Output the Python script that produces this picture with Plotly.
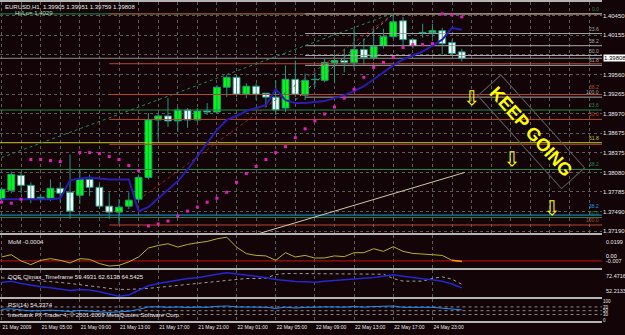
import plotly.graph_objects as go

# ---------------- data ----------------
bars = list(range(48))
opens = [1.37675,1.37810,1.38035,1.37885,1.37675,1.37690,1.37840,1.37780,1.37735,1.37975,
         1.37855,1.37570,1.37480,1.37570,1.37675,1.38005,1.38875,1.38935,1.38860,1.39025,
         1.38875,1.39010,1.38995,1.39370,1.39520,1.39265,1.39385,1.39280,1.39220,1.39055,
         1.39490,1.39250,1.39490,1.39475,1.39745,1.39775,1.39745,1.39940,1.39820,1.40000,
         1.40135,1.40375,1.40090,1.40195,1.40195,1.40225,1.40045,1.39905]
highs = [1.37855,1.38095,1.38080,1.37930,1.37750,1.37975,1.37930,1.38350,1.38125,1.38050,
         1.37900,1.37780,1.37675,1.37780,1.38050,1.38980,1.38965,1.39205,1.39070,1.39055,
         1.39055,1.39130,1.39400,1.39550,1.39550,1.39430,1.39430,1.39280,1.39475,1.39700,
         1.39775,1.39580,1.39595,1.39805,1.39880,1.39955,1.40255,1.40105,1.40255,1.40255,
         1.40480,1.40435,1.40105,1.40330,1.40330,1.40270,1.40090,1.39951]
lows = [1.37630,1.37765,1.37765,1.37615,1.37630,1.37645,1.37630,1.37375,1.37600,1.37720,
        1.37525,1.37375,1.37300,1.37525,1.37630,1.37975,1.38575,1.38770,1.38695,1.38755,
        1.38845,1.38950,1.38980,1.39220,1.39220,1.39205,1.39175,1.39070,1.38950,1.38995,
        1.39220,1.39175,1.39370,1.39445,1.39430,1.39595,1.39655,1.39715,1.39775,1.39955,
        1.40105,1.39985,1.39955,1.40120,1.40120,1.39865,1.39850,1.39759]
closes = [1.37825,1.38050,1.37885,1.37675,1.37705,1.37840,1.37765,1.37495,1.37975,1.37855,
          1.37570,1.37480,1.37555,1.37660,1.38005,1.38875,1.38935,1.38860,1.39025,1.38875,
          1.39010,1.38995,1.39370,1.39520,1.39265,1.39385,1.39265,1.39220,1.39025,1.39490,
          1.39265,1.39475,1.39485,1.39745,1.39775,1.39745,1.39940,1.39820,1.39985,1.40135,
          1.40360,1.40090,1.40000,1.40200,1.40225,1.40030,1.39880,1.39808]
ma_line = [1.37675,1.37675,1.37675,1.37675,1.37675,1.37675,1.37690,1.37960,1.37990,1.38005,
           1.37990,1.37975,1.37975,1.37975,1.37495,1.37555,1.37690,1.37825,1.37945,1.38125,
           1.38320,1.38530,1.38725,1.38875,1.38935,1.39010,1.39055,1.39100,1.39340,1.39175,
           1.39130,1.39130,1.39145,1.39160,1.39205,1.39250,1.39310,1.39385,1.39490,1.39595,
           1.39700,1.39790,1.39850,1.39910,1.40000,1.40090,1.40270,1.40240]
sar = [1.37630,1.37615,1.37675,1.38275,1.38275,1.38260,1.38245,None,1.38380,1.38380,
       1.38365,1.38320,1.38275,1.38185,1.38110,1.37270,1.37300,1.37345,1.37420,1.37495,
       1.37555,1.37630,1.37690,1.37780,1.37930,1.38065,1.38170,1.38275,1.38380,1.38470,
       1.38605,1.38740,1.38860,1.38965,1.39070,1.39205,1.39340,1.39520,1.39670,1.39745,
       1.39820,1.39970,1.40015,1.40015,1.40030,1.40480,1.40465,1.40435]
mom = [0.0033,0.0052,0.0000,-0.0031,0.0005,0.0019,0.0005,-0.0017,0.0019,0.0013,
       -0.0022,-0.0043,-0.0037,-0.0008,0.0033,0.0108,0.0129,0.0144,0.0116,0.0138,
       0.0152,0.0163,0.0185,0.0199,0.0116,0.0061,0.0046,0.0042,0.0005,0.0069,
       0.0033,0.0046,0.0024,0.0025,0.0042,0.0036,0.0069,0.0069,0.0102,0.0080,
       0.0119,0.0080,0.0063,0.0055,0.0052,0.0046,0.0005,-0.0004]
qqe_rsi = [64.18,65.29,63.32,61.87,60.50,59.65,58.45,57.34,58.19,57.59,
           56.23,53.92,52.21,53.32,57.08,61.36,63.32,64.78,66.15,67.60,
           68.20,69.91,71.27,72.47,71.62,70.42,69.56,68.45,66.74,65.63,
           65.03,64.78,64.43,65.29,65.89,66.49,67.00,67.60,68.45,69.56,
           70.76,69.56,68.20,67.34,66.49,65.29,62.90,59.49]
qqe_trail = [68.17,67.60,67.03,66.18,65.32,64.75,64.18,63.33,62.47,61.33,
             60.19,59.05,58.20,58.20,58.48,59.05,59.91,60.76,61.62,62.47,
             63.33,64.18,65.32,66.18,67.03,67.60,67.60,67.89,71.02,71.88,
             71.88,71.88,71.59,71.31,71.31,71.31,71.31,71.31,71.31,71.31,
             67.60,65.32,65.32,65.32,67.60,69.03,67.03,62.61]
rsi = [57,60,54,49,50,53,50,45,52,50,44,41,43,47,57,70,71,68,70,67,
       69,68,73,75,70,71,69,68,62,69,64,68,67,70,70,69,72,69,72,73,
       75,68,66,68,68,64,58,54.34]

time_ticks = [0,4,8,12,16,20,24,28,32,36,40,44]
time_labels = ["21 May 2009","21 May 05:00","21 May 09:00","21 May 13:00","21 May 17:00",
               "21 May 21:00","22 May 01:00","22 May 05:00","22 May 09:00","22 May 13:00",
               "22 May 17:00","24 May 23:00"]
price_ticks = [1.37190,1.37490,1.37785,1.38080,1.38375,1.38675,1.38970,1.39265,
               1.39560,1.39860,1.40155,1.40450]
last_price = 1.39808

fib_green = dict(high=1.40480, low=1.34315, start=-5, levels=[0.0,23.6,38.2,50.0],
                 color="#1f8a4c", labels=[0.0,23.6,38.2,50.0])
fib_orange = dict(high=1.40480, low=1.37285, start=11, levels=[0.0,23.6,38.2,50.0,61.8,100.0],
                  color="#b5492c", labels=[38.2,50.0,100.0])
fib_gray = dict(high=1.40480, low=1.39220, start=31, levels=[0.0,23.6,38.2,50.0,61.8,100.0],
                color="#a8a8a8", labels=[23.6,38.2,50.0,61.8,100.0])
single_levels = [(1.38530, "61.8", "#c8c81e"), (1.37435, "38.2", "#1e9be6")]

trend_green = ([0, 40], [1.38305, 1.40490])
trend_red = ([14.5, 40], [1.37720, 1.40480])
trend_white = ([30, 40], [1.39175, 1.40480])
trend_beige = ([25.5, 47.3], [1.37120, 1.38080])

arrow_x = [48.0, 52.1, 56.2]
arrow_y = [1.39175, 1.38260, 1.37510]

# ---------------- style ----------------
BG = "#120407"
GRID = "#5a5a5a"
SEP = "#b4b4b4"
FONT = "Liberation Sans"
XR = [-0.15, 61.3]
XD = [0, 0.963]
WICK = "#1f9a80"

fig = go.Figure()
far = 1000

for fs in (fib_green, fib_orange, fib_gray):
    for lv in fs["levels"]:
        p = fs["high"] - (fs["high"] - fs["low"]) * lv / 100.0
        fig.add_trace(go.Scatter(x=[fs["start"], far], y=[p, p], mode="lines",
                                 line=dict(color=fs["color"], width=1), hoverinfo="skip",
                                 showlegend=False, xaxis="x", yaxis="y"))
for p, t, c in single_levels:
    fig.add_trace(go.Scatter(x=[-5, far], y=[p, p], mode="lines", line=dict(color=c, width=1),
                             hoverinfo="skip", showlegend=False, xaxis="x", yaxis="y"))
fig.add_trace(go.Scatter(x=[-5, far], y=[last_price, last_price], mode="lines",
                         line=dict(color="#8c8c8c", width=1), hoverinfo="skip", showlegend=False))

for (tx, ty), col, dash in [(trend_green, "#238b50", "dot"), (trend_red, "#a02020", "dot"),
                            (trend_white, "#8a8a8a", "dot"), (trend_beige, "#cfc8a8", "solid")]:
    fig.add_trace(go.Scatter(x=tx, y=ty, mode="lines", line=dict(color=col, width=1, dash=dash),
                             hoverinfo="skip", showlegend=False))

wx, wy = [], []
for i, h, l in zip(bars, highs, lows):
    wx += [i, i, None]
    wy += [l, h, None]
fig.add_trace(go.Scatter(x=wx, y=wy, mode="lines", line=dict(color=WICK, width=1),
                         showlegend=False, hoverinfo="skip"))
body_base = [min(o, c) for o, c in zip(opens, closes)]
body_len = [max(abs(c - o), 0.00003) for o, c in zip(opens, closes)]
body_col = ["#00ff00" if c >= o else "#ffffff" for o, c in zip(opens, closes)]
fig.add_trace(go.Bar(x=bars, y=body_len, base=body_base, width=0.7,
                     marker=dict(color=body_col, line=dict(color=WICK, width=1)),
                     showlegend=False, hoverinfo="skip"))
fig.add_trace(go.Scatter(x=bars, y=ma_line, mode="lines", line=dict(color="#2a1cb0", width=2),
                         showlegend=False, hoverinfo="skip"))
fig.add_trace(go.Scatter(x=bars, y=sar, mode="markers",
                         marker=dict(symbol="square", size=3, color="#e020b8"),
                         showlegend=False, hoverinfo="skip"))
fig.add_trace(go.Scatter(x=arrow_x, y=arrow_y, mode="text", text=["⇩"] * 3,
                         textfont=dict(color="#ffff00", size=20, family="DejaVu Sans"),
                         showlegend=False, hoverinfo="skip"))

fig.add_trace(go.Scatter(x=[-5, far], y=[0, 0], mode="lines", line=dict(color="#d01010", width=1),
                         xaxis="x2", yaxis="y2", showlegend=False, hoverinfo="skip"))
fig.add_trace(go.Scatter(x=bars, y=mom, mode="lines", line=dict(color="#b4b428", width=1),
                         xaxis="x2", yaxis="y2", showlegend=False, hoverinfo="skip"))
fig.add_trace(go.Scatter(x=bars[-2:], y=mom[-2:], mode="lines", line=dict(color="#ff8c00", width=1.5),
                         xaxis="x2", yaxis="y2", showlegend=False, hoverinfo="skip"))
fig.add_trace(go.Scatter(x=bars, y=qqe_trail, mode="lines", line=dict(color="#a0a0a0", width=1, dash="dot"),
                         xaxis="x3", yaxis="y3", showlegend=False, hoverinfo="skip"))
fig.add_trace(go.Scatter(x=bars, y=qqe_rsi, mode="lines", line=dict(color="#2626d2", width=1.5),
                         xaxis="x3", yaxis="y3", showlegend=False, hoverinfo="skip"))
for lvl in (70, 50, 30):
    fig.add_trace(go.Scatter(x=[-5, far], y=[lvl, lvl], mode="lines",
                             line=dict(color="#8c8c8c", width=1, dash="dot"),
                             xaxis="x4", yaxis="y4", showlegend=False, hoverinfo="skip"))
fig.add_trace(go.Scatter(x=bars, y=rsi, mode="lines", line=dict(color="#1e90ff", width=1),
                         xaxis="x4", yaxis="y4", showlegend=False, hoverinfo="skip"))

def xax(anchor, labels=False, step=4):
    d = dict(domain=XD, range=XR, anchor=anchor, tickvals=time_ticks, showgrid=True,
             gridcolor=GRID, griddash="dot", gridwidth=1, zeroline=False, ticks="",
             showline=True, mirror=True, linecolor=SEP, linewidth=2, showticklabels=labels,
             fixedrange=True)
    if step == 2:
        d["minor"] = dict(dtick=2, tick0=0, showgrid=True, gridcolor=GRID, griddash="dot", gridwidth=1)
    if labels:
        d.update(ticktext=time_labels, ticklabelposition="outside right", tickangle=0,
                 tickfont=dict(family=FONT, size=5, color="#e8e8e8"))
    return d

fig.update_layout(
    width=625, height=335, margin=dict(l=0, r=0, t=0, b=0),
    paper_bgcolor=BG, plot_bgcolor=BG, showlegend=False, barmode="overlay",
    font=dict(family=FONT, size=6, color="#e8e8e8"),
    xaxis=xax("y", step=2),
    xaxis2=dict(xax("y2"), matches="x"),
    xaxis3=dict(xax("y3"), matches="x"),
    xaxis4=dict(xax("y4", labels=True), matches="x"),
    yaxis=dict(domain=[0.3015, 0.997], range=[1.37165, 1.40660], side="right", anchor="x",
               tickvals=price_ticks,
               ticktext=["" if abs(v - last_price) < 0.0008 else f"{v:.5f}" for v in price_ticks],
               tickfont=dict(family=FONT, size=6, color="#e8e8e8"), showgrid=True,
               gridcolor=GRID, griddash="dot", zeroline=False, ticks="", fixedrange=True),
    yaxis2=dict(domain=[0.197, 0.2955], range=[-0.0056, 0.0218], side="right", anchor="x2",
                showticklabels=False, showgrid=False, zeroline=False),
    yaxis3=dict(domain=[0.1075, 0.191], range=[51.35, 75.29], side="right", anchor="x3",
                showticklabels=False, showgrid=False, zeroline=False),
    yaxis4=dict(domain=[0.0358, 0.1015], range=[-5.3, 110.5], side="right", anchor="x4",
                tickvals=[100, 70, 50, 30, 0], tickfont=dict(family=FONT, size=4.5, color="#e8e8e8"),
                showgrid=False, zeroline=False, ticks=""),
)

ann = []
def note(text, x, y, xref="paper", yref="paper", xanchor="left", yanchor="middle", color="#e8e8e8",
         size=6, **kw):
    ann.append(dict(text=text, x=x, y=y, xref=xref, yref=yref, xanchor=xanchor, yanchor=yanchor,
                    showarrow=False, font=dict(family=FONT, size=size, color=color), **kw))

note("EURUSD,H1  1.39905 1.39951 1.39759 1.39808", 0.005, 1 - 6 / 335)
note("Hi/Lo= 1.4029", 0.02, 1 - 12.5 / 335, color="#b8d8b8")
lift = {("o", 38.2): 3, ("c", 38.2): 4}
for key, fs in (("g", fib_green), ("o", fib_orange), ("a", fib_gray)):
    for lv in fs["labels"]:
        p = fs["high"] - (fs["high"] - fs["low"]) * lv / 100.0
        note(f"{lv:.1f}", 0.961, p, yref="y", xanchor="right", yanchor="bottom", color=fs["color"],
             size=5, yshift=lift.get((key, lv), 0))
for p, t, c in single_levels:
    note(t, 0.961, p, yref="y", xanchor="right", yanchor="bottom", color=c, size=5,
         yshift=lift.get(("c", 38.2), 0) if c == "#1e9be6" else 0)
note(f"{last_price:.5f}", 0.965, last_price, yref="y", color="#000000", bgcolor="#ffffff", borderpad=0)
ann.append(dict(text="<b>KEEP GOING</b>", x=54.1, y=1.38690, xref="x", yref="y", showarrow=False,
                textangle=48, font=dict(family=FONT, size=18, color="#ffff00"),
                bordercolor="#5a5a5a", borderwidth=1, borderpad=5))
note("MoM -0.0004", 0.01, 0.93, yref="y2 domain", yanchor="top")
note("0.0199", 0.966, 0.95, yref="y2 domain", yanchor="top", size=5.5)
note("0.00", 0.966, 0, yref="y2", yanchor="bottom", color="#ffffff", size=5.5)
note("-0.007", 0.966, 0.05, yref="y2 domain", yanchor="bottom", size=5.5)
note("QQE Climax_Timeframe 59.4931 62.6138 64.5425", 0.01, 0.93, yref="y3 domain", yanchor="top")
note("72.4716", 0.966, 0.95, yref="y3 domain", yanchor="top", size=5.5)
note("52.2133", 0.966, 0.05, yref="y3 domain", yanchor="bottom", size=5.5)
note("RSI(14) 54.3374", 0.01, 0.95, yref="y4 domain", yanchor="top")
note("Interbank FX Trader 4, © 2001-2009 MetaQuotes Software Corp.", 0.01, 0.04, yref="y4 domain",
     yanchor="bottom")
fig.update_layout(annotations=ann)

fig.write_html("out.html")
